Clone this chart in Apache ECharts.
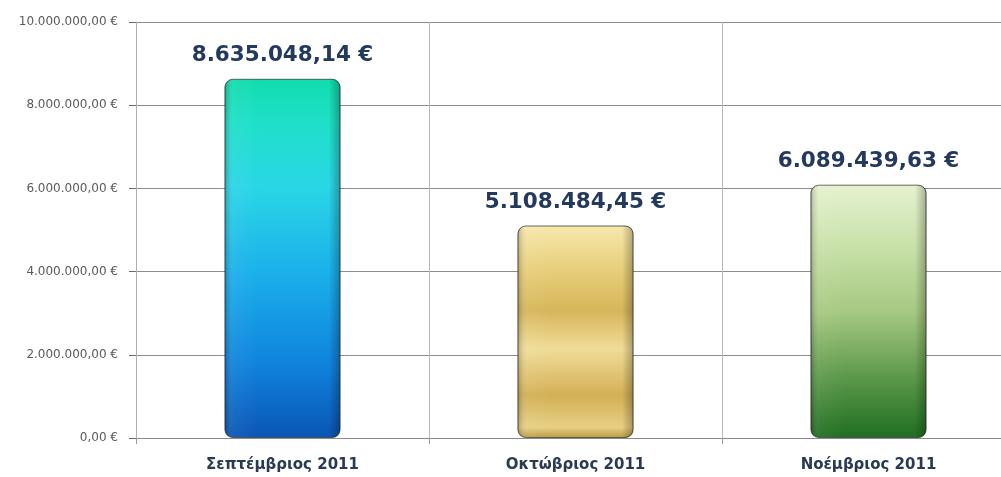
<!DOCTYPE html>
<html>
<head>
<meta charset="utf-8">
<script src="https://cdn.jsdelivr.net/npm/echarts@6/dist/echarts.min.js"></script>
<style>
  html, body { margin: 0; padding: 0; background: #ffffff; }
  #chart { width: 1001px; height: 477px; }
</style>
</head>
<body>
<div id="chart"></div>
<script>
// Monthly totals (euros)
var months = ['Σεπτέμβριος 2011', 'Οκτώβριος 2011', 'Νοέμβριος 2011'];
var amounts = [8635048.14, 5108484.45, 6089439.63];
var yTicks = [0, 2000000, 4000000, 6000000, 8000000, 10000000];

// Greek-style euro formatting: 1.234.567,89 €
function euro(v) {
  var parts = v.toFixed(2).split('.');
  var intPart = parts[0].replace(/\B(?=(\d{3})+(?!\d))/g, '.');
  return intPart + ',' + parts[1] + ' €';
}

function vGrad(stops) {
  return new echarts.graphic.LinearGradient(0, 0, 0, 1,
    stops.map(function (s) { return { offset: s[0], color: s[1] }; }));
}

var barFills = [
  vGrad([[0, '#12dcae'], [0.12, '#1ee0c8'], [0.3, '#2ad6e6'], [0.55, '#1aaeea'], [0.8, '#0f82dc'], [1, '#0a55b4']]),
  vGrad([[0, '#f6e8ae'], [0.2, '#e8cf7c'], [0.4, '#d6b65a'], [0.58, '#f0dc98'], [0.8, '#d3b056'], [0.95, '#e6cf84'], [1, '#b89a40']]),
  vGrad([[0, '#e6f2cf'], [0.25, '#c8e0a8'], [0.5, '#a6c982'], [0.75, '#5f9a4c'], [1, '#1f6e22']])
];

var edgeShade = new echarts.graphic.LinearGradient(0, 0, 1, 0, [
  { offset: 0, color: 'rgba(0,0,0,0.25)' },
  { offset: 0.08, color: 'rgba(255,255,255,0.05)' },
  { offset: 0.3, color: 'rgba(255,255,255,0.0)' },
  { offset: 0.9, color: 'rgba(0,0,0,0.0)' },
  { offset: 1, color: 'rgba(0,0,0,0.28)' }
]);

var chart = echarts.init(document.getElementById('chart'), null, { renderer: 'canvas' });

chart.setOption({
  backgroundColor: '#ffffff',
  animation: false,
  grid: { left: 136, top: 22, width: 879, bottom: 39, containLabel: false, outerBoundsMode: 'none' },
  xAxis: {
    type: 'category',
    data: months,
    axisLine: { show: true, lineStyle: { color: '#8a8a8a', width: 1 } },
    axisTick: { show: true, alignWithLabel: false, length: 6, lineStyle: { color: '#9a9a9a' } },
    splitLine: { show: true, lineStyle: { color: '#b8b8b8', width: 1 } },
    axisLabel: {
      margin: 20,
      color: '#2a3a55',
      fontFamily: '"DejaVu Sans", sans-serif',
      fontWeight: 'bold',
      fontSize: 15
    }
  },
  yAxis: {
    type: 'value',
    min: yTicks[0],
    max: yTicks[yTicks.length - 1],
    interval: yTicks[1] - yTicks[0],
    axisLine: { show: true, lineStyle: { color: '#b0b0b0', width: 1 } },
    axisTick: { show: true, length: 7, lineStyle: { color: '#6a6a6a' } },
    splitLine: { show: true, lineStyle: { color: '#8c8c8c', width: 1 } },
    axisLabel: {
      margin: 18,
      color: '#5a5a5a',
      fontFamily: '"DejaVu Sans", sans-serif',
      fontSize: 12,
      formatter: function (v) { return euro(v); }
    }
  },
  series: [
    {
      type: 'bar',
      barWidth: 116,
      data: amounts.map(function (v, i) {
        return { value: v, itemStyle: { color: barFills[i] } };
      }),
      itemStyle: {
        borderRadius: 8,
        borderColor: 'rgba(40,40,40,0.7)',
        borderWidth: 1
      },
      label: {
        show: true,
        position: 'top',
        distance: 12,
        color: '#23395d',
        fontFamily: '"DejaVu Sans", sans-serif',
        fontWeight: 'bold',
        fontSize: 21.5,
        formatter: function (p) { return euro(p.value); }
      },
      z: 2
    },
    {
      type: 'bar',
      barWidth: 116,
      barGap: '-100%',
      data: amounts,
      silent: true,
      itemStyle: { color: edgeShade, borderRadius: 8 },
      label: { show: false },
      z: 3
    }
  ]
});
</script>
</body>
</html>
